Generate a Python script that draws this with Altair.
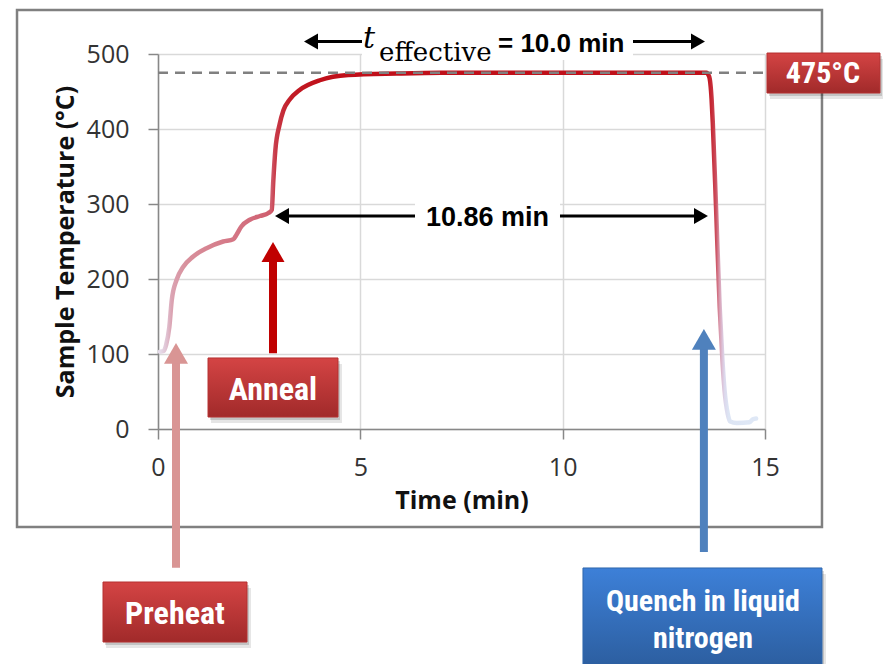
import altair as alt
import pandas as pd

# ---------------- values ----------------
time_min = [0.05, 0.14, 0.2, 0.28, 0.34, 0.46, 0.62, 0.87, 1.2, 1.61,
            1.86, 1.94, 2.06, 2.27, 2.52, 2.73, 2.81, 2.85, 2.9, 3.0,
            3.1, 3.25, 3.5, 4.0, 4.7, 5.9, 7.0, 13.55, 13.62, 13.68,
            13.71, 13.79, 13.88, 13.95, 14.0, 14.08, 14.14, 14.3, 14.62, 14.7,
            14.78]
temp_c = [103, 104, 112, 136, 172, 199, 216, 230, 241, 250,
          253, 259, 270, 279, 284, 288, 292, 332, 372, 405,
          425, 439, 452, 465, 472, 474, 475, 475, 470, 440,
          408, 296, 163, 90, 52, 20, 10, 8, 9, 13,
          14]

setpoint_temp = 475
setpoint_span = [0, 15]
x_ticks = [0, 5, 10, 15]
y_ticks = [0, 100, 200, 300, 400, 500]

# colour of the trace along the time axis
grad_time = [0.05, 0.2, 0.34, 0.7, 1.5, 2.3, 2.8, 2.9, 3.3, 4.0,
             13.55, 13.68, 13.79, 13.88, 13.95, 14.0, 14.1, 14.78]
grad_color = ["#e6dcea", "#e0c4d4", "#dba3b2", "#d8909c", "#d67e8c", "#d26c7c",
              "#cf5c6c", "#c83a48", "#c21c26", "#c0101a",
              "#c0101a", "#c62a36", "#cc5060", "#d9a0b4", "#dcc4da", "#dcd8ec",
              "#dde5f4", "#dfe8f6"]

# annotation texts
label_setpoint = "475°C"
label_hold = "10.86 min"
label_teff_t = "t"
label_teff_sub = "effective"
label_teff_val = "= 10.0 min"
label_preheat = "Preheat"
label_anneal = "Anneal"
label_quench = ["Quench in liquid", "nitrogen"]

# annotation anchors, in data units (minutes, °C)
frame_box = dict(x=-3.484, x2=16.408, y=558.7, y2=-130.7)
setpoint_box = dict(x=15.049, x2=17.841, y=501.3, y2=448.0)
setpoint_txt = dict(x=16.433, y=461.3)
preheat_box = dict(x=-1.359, x2=2.199, y=-204.0, y2=-284.0)
preheat_txt = dict(x=0.42, y=-260.0)
anneal_box = dict(x=1.236, x2=4.448, y=94.7, y2=16.0)
anneal_txt = dict(x=2.842, y=38.7)
quench_box = dict(x=10.502, x2=16.408, y=-185.3, y2=-325.0)
quench_txt = dict(x=13.466, y=[-242.7, -292.0])

preheat_arrow = dict(x=0.445, y=-185.0, y2=90.0, head=100.8)
anneal_arrow = dict(x=2.842, y=101.0, y2=226.0, head=236.0)
quench_arrow = dict(x=13.49, y=-164.0, y2=108.0, head=119.5)

hold_arrow = dict(y=284.0, x=3.0, x2=13.5, head_l=3.064, head_r=13.418)
hold_bg = dict(x=6.351, x2=9.934, y=305.3, y2=262.7)
hold_txt = dict(x=8.142, y=270.7)

teff_arrow = dict(y=516.7, x=3.7, x2=13.4, head_l=3.781, head_r=13.344)
teff_bg = dict(x=5.041, x2=11.738, y=538.7, y2=492.0)
teff_t = dict(x=5.066, y=508.0)
teff_sub = dict(x=5.461, y=490.7)
teff_val = dict(x=8.402, y=502.7)

# ---------------- chart ----------------
xs = alt.Scale(domain=[0, 15], nice=False, zero=False)
ys = alt.Scale(domain=[0, 500], nice=False, zero=False)

AX_FONT = "Open Sans"
BOX_FONT = "Liberation Sans Narrow, Arial Narrow, Roboto Condensed, sans-serif"

x_axis = alt.Axis(values=x_ticks, title="Time (min)", labelFont=AX_FONT, labelFontSize=25,
                  labelColor="#333333", labelPadding=16, tickSize=10, tickColor="#888888",
                  tickWidth=1.5, domainColor="#888888", domainWidth=1.5,
                  gridColor="#d9d9d9", gridWidth=1.5, titleFont=AX_FONT, titleFontSize=25,
                  titleFontWeight="bold", titleColor="#111111", titlePadding=8,
                  labelFlush=False)
y_axis = alt.Axis(values=y_ticks, title="Sample Temperature (°C)", labelFont=AX_FONT,
                  labelFontSize=25, labelColor="#333333", labelPadding=19, tickSize=10,
                  tickColor="#888888", tickWidth=1.5, domainColor="#888888", domainWidth=1.5,
                  gridColor="#d9d9d9", gridWidth=1.5, titleFont=AX_FONT, titleFontSize=25,
                  titleFontWeight="bold", titleColor="#111111", titlePadding=8)


def X(f="x"):
    return alt.X(f + ":Q", scale=xs, axis=x_axis)


def Y(f="y"):
    return alt.Y(f + ":Q", scale=ys, axis=y_axis)


def rect(d, **mark):
    return alt.Chart(pd.DataFrame([d])).mark_rect(**mark).encode(
        x=X(), x2="x2:Q", y=Y(), y2="y2:Q")


def hrule(df, **mark):
    return alt.Chart(df).mark_rule(**mark).encode(x=X(), x2="x2:Q", y=Y())


def vrule(df, **mark):
    return alt.Chart(df).mark_rule(**mark).encode(x=X(), y=Y(), y2="y2:Q")


def point(df, **mark):
    return alt.Chart(df).mark_point(filled=True, opacity=1, strokeWidth=0, **mark).encode(
        x=X(), y=Y())


def text(df, **mark):
    return alt.Chart(df).mark_text(baseline="alphabetic", **mark).encode(
        x=X(), y=Y(), text="txt:N")


t0, t1 = time_min[0], time_min[-1]
line_grad = alt.Gradient(
    gradient="linear", x1=0, y1=0, x2=1, y2=0,
    stops=[alt.GradientStop(offset=(t - t0) / (t1 - t0), color=c)
           for t, c in zip(grad_time, grad_color)])

red_grad = alt.Gradient(gradient="linear", x1=0, y1=0, x2=0, y2=1,
                        stops=[alt.GradientStop(offset=0, color="#d44444"),
                               alt.GradientStop(offset=1, color="#a12a2a")])
blue_grad = alt.Gradient(gradient="linear", x1=0, y1=0, x2=0, y2=1,
                         stops=[alt.GradientStop(offset=0, color="#3d80d8"),
                                alt.GradientStop(offset=1, color="#2b5c9c")])

layers = []

# outer frame
layers.append(rect(frame_box, fillOpacity=0, stroke="#808080", strokeWidth=2.5))

# temperature trace
curve_df = pd.DataFrame({"x": time_min, "y": temp_c})
layers.append(alt.Chart(curve_df).mark_line(color=line_grad, strokeWidth=4.5, strokeJoin="round",
                                            strokeCap="round", interpolate="monotone").encode(
    x=X(), y=Y()))

# set-point dashed line
layers.append(hrule(pd.DataFrame({"x": [setpoint_span[0]], "x2": [setpoint_span[1]],
                                  "y": [setpoint_temp]}),
                    color="#808080", strokeWidth=2.5, strokeDash=[10, 7]))

# horizontal double arrows
for arr, bg in ((hold_arrow, hold_bg), (teff_arrow, teff_bg)):
    layers.append(hrule(pd.DataFrame({"x": [arr["x"]], "x2": [arr["x2"]], "y": [arr["y"]]}),
                        color="black", strokeWidth=3))
    layers.append(rect(bg, color="white"))
    layers.append(point(pd.DataFrame({"x": [arr["head_l"]], "y": [arr["y"]]}),
                        shape="triangle-left", size=260, color="black"))
    layers.append(point(pd.DataFrame({"x": [arr["head_r"]], "y": [arr["y"]]}),
                        shape="triangle-right", size=260, color="black"))

layers.append(text(pd.DataFrame({"x": [hold_txt["x"]], "y": [hold_txt["y"]], "txt": [label_hold]}),
                   font="Liberation Sans", fontWeight="bold", fontSize=27, color="black",
                   align="center"))
layers.append(text(pd.DataFrame({"x": [teff_t["x"]], "y": [teff_t["y"]], "txt": [label_teff_t]}),
                   font="DejaVu Serif", fontStyle="italic", fontSize=30, color="black",
                   align="left"))
layers.append(text(pd.DataFrame({"x": [teff_sub["x"]], "y": [teff_sub["y"]], "txt": [label_teff_sub]}),
                   font="DejaVu Serif", fontSize=26, color="black", align="left"))
layers.append(text(pd.DataFrame({"x": [teff_val["x"]], "y": [teff_val["y"]], "txt": [label_teff_val]}),
                   font="Liberation Sans", fontWeight="bold", fontSize=26, color="black",
                   align="left"))

# vertical arrows
for arr, col, sz in ((preheat_arrow, "#d99594", 576), (anneal_arrow, "#c00000", 529),
                     (quench_arrow, "#4f81bd", 576)):
    layers.append(vrule(pd.DataFrame({"x": [arr["x"]], "y": [arr["y"]], "y2": [arr["y2"]]}),
                        color=col, strokeWidth=8))
    layers.append(point(pd.DataFrame({"x": [arr["x"]], "y": [arr["head"]]}),
                        shape="triangle-up", size=sz, color=col))

# label boxes
for box, grad, edge in ((setpoint_box, red_grad, "#b53030"), (preheat_box, red_grad, "#b53030"),
                        (anneal_box, red_grad, "#b53030"), (quench_box, blue_grad, "#2f66ad")):
    layers.append(rect(box, color="black", opacity=0.10, xOffset=3, x2Offset=4, yOffset=6, y2Offset=6))
    layers.append(rect(box, color="black", opacity=0.15, xOffset=2, x2Offset=2, yOffset=3, y2Offset=3))
    layers.append(rect(box, fill=grad, stroke=edge, strokeWidth=1))

layers.append(text(pd.DataFrame({"x": [setpoint_txt["x"]], "y": [setpoint_txt["y"]],
                                 "txt": [label_setpoint]}),
                   font=BOX_FONT, fontWeight="bold", fontSize=30, color="white", align="center"))
layers.append(text(pd.DataFrame({"x": [preheat_txt["x"]], "y": [preheat_txt["y"]],
                                 "txt": [label_preheat]}),
                   font=BOX_FONT, fontWeight="bold", fontSize=32, color="white", align="center"))
layers.append(text(pd.DataFrame({"x": [anneal_txt["x"]], "y": [anneal_txt["y"]],
                                 "txt": [label_anneal]}),
                   font=BOX_FONT, fontWeight="bold", fontSize=32, color="white", align="center"))
layers.append(text(pd.DataFrame({"x": [quench_txt["x"]] * 2, "y": quench_txt["y"],
                                 "txt": label_quench}),
                   font=BOX_FONT, fontWeight="bold", fontSize=30, color="white", align="center"))

chart = alt.layer(*layers).properties(
    width=607, height=375,
    autosize=alt.AutoSizeParams(type="none"),
    padding={"left": 158, "top": 54, "right": 118, "bottom": 235},
    background="white",
).configure_view(stroke=None)

chart.save("out.html", embed_options={"renderer": "svg", "actions": False})
